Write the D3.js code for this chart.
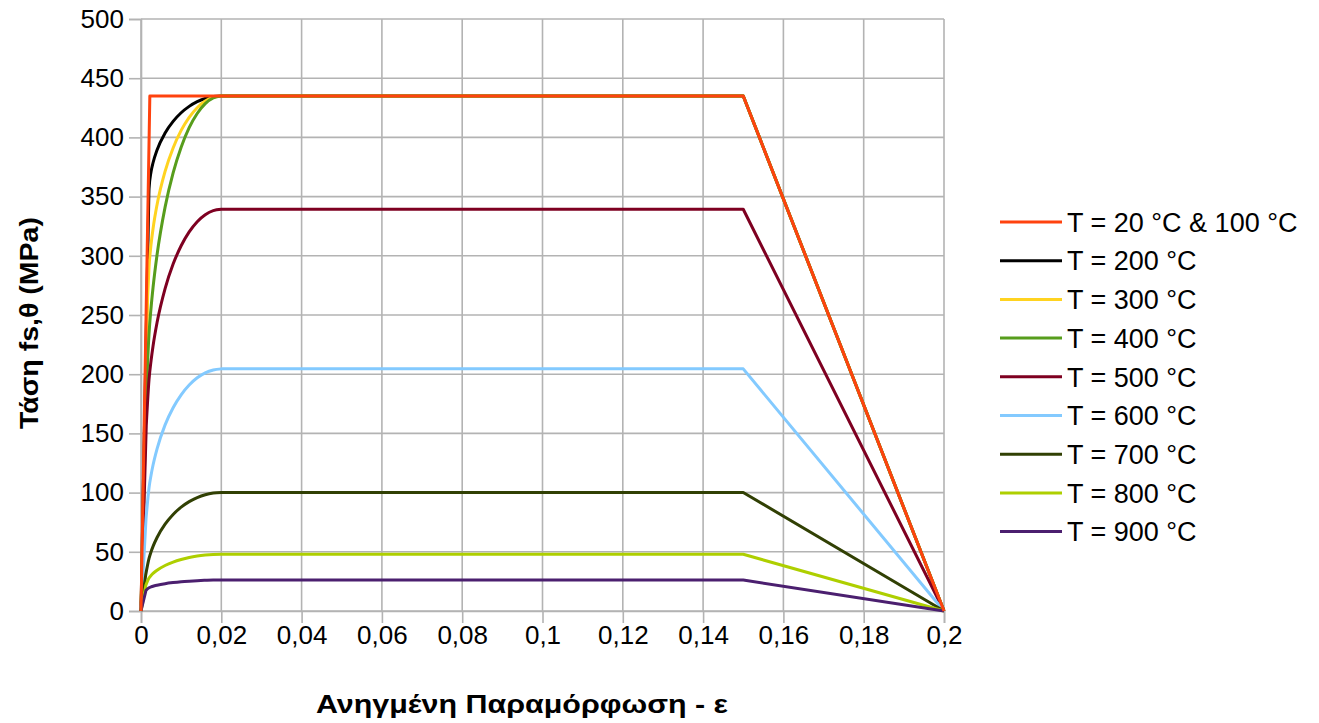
<!DOCTYPE html>
<html>
<head>
<meta charset="utf-8">
<script src="https://cdn.jsdelivr.net/npm/d3@7"></script>
<style>
  html, body { margin: 0; padding: 0; background: #fff; }
  svg { display: block; font-family: "Liberation Sans", Arial, sans-serif; }
</style>
</head>
<body>
<svg id="chart" width="1319" height="723"></svg>
<script>
// Stress–strain curves of reinforcing steel at elevated temperature
const seriesLabels = [
  "T = 20 °C & 100 °C", "T = 200 °C", "T = 300 °C", "T = 400 °C", "T = 500 °C",
  "T = 600 °C", "T = 700 °C", "T = 800 °C", "T = 900 °C"
];
const seriesColors = [
  "#ff420e", "#000000", "#ffd320", "#579d1c", "#7e0021",
  "#83caff", "#314004", "#aecf00", "#4b1f6f"
];

// end of the linear (proportional) branch for each temperature
const propStrain = [0.0022, 0.00196, 0.00166, 0.00131, 0.00131, 0.00126, 0.00117, 0.00121, 0.00124];
const propStress = [435, 352.4, 265.4, 182.7, 156.6, 78.3, 30.5, 21.8, 17.4];

// curved branch up to the yield strain 0.02
const curveStrain = [0.002, 0.0025, 0.003, 0.004, 0.006, 0.008, 0.010, 0.012, 0.014, 0.016, 0.018, 0.020];
const stress20   = [null, 435, 435, 435, 435, 435, 435, 435, 435, 435, 435, 435];
const stress200  = [356.4, 370.9, 378.6, 389.4, 403.7, 413.5, 420.8, 426.2, 430.2, 432.9, 434.5, 435];
const stress300  = [290.6, 309.4, 322.9, 343.2, 371.3, 391.1, 405.9, 417.0, 425.1, 430.7, 433.9, 435];
const stress400  = [234.2, 255.9, 273.2, 300.9, 341.1, 370.0, 391.7, 408.2, 420.2, 428.5, 433.4, 435];
const stress500  = [195.6, 211.3, 223.8, 243.6, 272.3, 293.0, 308.5, 320.2, 328.8, 334.7, 338.2, 339.3];
const stress600  = [104.1, 114.7, 123.3, 137.0, 157.2, 171.7, 182.6, 190.9, 197.0, 201.2, 203.6, 204.5];
const stress700  = [44.4, 50.0, 54.6, 62.1, 73.3, 81.5, 87.7, 92.4, 95.8, 98.2, 99.6, 100.1];
const stress800  = [27.9, 30.0, 31.7, 34.4, 38.4, 41.3, 43.5, 45.2, 46.4, 47.2, 47.7, 47.9];
const stress900  = [19.6, 20.3, 20.9, 21.8, 23.1, 24.0, 24.7, 25.2, 25.6, 25.9, 26.1, 26.1];
const curveStress = [stress20, stress200, stress300, stress400, stress500, stress600, stress700, stress800, stress900];

// plateau end and ultimate strain (stress falls to zero)
const plateauEndStrain = 0.15;
const ultimateStrain = 0.2;

const xTickValues = [0, 0.02, 0.04, 0.06, 0.08, 0.1, 0.12, 0.14, 0.16, 0.18, 0.2];
const yTickValues = [0, 50, 100, 150, 200, 250, 300, 350, 400, 450, 500];
const xTitle = "Ανηγμένη Παραμόρφωση - ε";
const yTitle = "Τάση fs,θ (MPa)";

const svg = d3.select("#chart");
const plot = { left: 141, right: 944, top: 19, bottom: 611 };

const x = d3.scaleLinear().domain([0, 0.2]).range([plot.left, plot.right]);
const y = d3.scaleLinear().domain([0, 500]).range([plot.bottom, plot.top]);

const grey = "#b3b3b3";
const commaFmt = d => String(+d.toFixed(2)).replace(".", ",");

// grid
const grid = svg.append("g");
grid.selectAll("line.h").data(yTickValues).join("line")
  .attr("x1", plot.left).attr("x2", plot.right)
  .attr("y1", d => y(d)).attr("y2", d => y(d))
  .attr("stroke", grey).attr("stroke-width", 1.6);
grid.selectAll("line.v").data(xTickValues).join("line")
  .attr("x1", d => x(d)).attr("x2", d => x(d))
  .attr("y1", plot.top).attr("y2", plot.bottom)
  .attr("stroke", grey).attr("stroke-width", 1.6);

// axes
const yAxis = svg.append("g")
  .attr("transform", `translate(${plot.left},0)`)
  .call(d3.axisLeft(y).tickValues(yTickValues).tickSize(12).tickPadding(5));
const xAxis = svg.append("g")
  .attr("transform", `translate(0,${plot.bottom})`)
  .call(d3.axisBottom(x).tickValues(xTickValues).tickFormat(commaFmt).tickSize(12).tickPadding(3));

[xAxis, yAxis].forEach(a => {
  a.select(".domain").attr("stroke", grey).attr("stroke-width", 1.6);
  a.selectAll(".tick line").attr("stroke", grey).attr("stroke-width", 1.6);
  a.selectAll(".tick text").attr("fill", "#000").attr("font-size", 26)
    .attr("font-family", "Liberation Sans, Arial, sans-serif");
});

// curves
const risingLine = d3.line().x(d => x(d[0])).y(d => y(d[1])).curve(d3.curveMonotoneX);

function seriesPath(i) {
  const pts = [[propStrain[i], propStress[i]]];
  curveStrain.forEach((e, k) => {
    const s = curveStress[i][k];
    if (s != null && e > propStrain[i]) pts.push([e, s]);
  });
  const yieldStress = pts[pts.length - 1][1];
  let d = `M${x(0)},${y(0)}L${x(propStrain[i])},${y(propStress[i])}`;
  d += risingLine(pts).replace(/^M[^LC]*/, "");
  d += `L${x(plateauEndStrain)},${y(yieldStress)}L${x(ultimateStrain)},${y(0)}`;
  return d;
}

const order = [1, 2, 3, 4, 5, 6, 7, 8, 0];
svg.append("g").selectAll("path").data(order).join("path")
  .attr("d", i => seriesPath(i))
  .attr("fill", "none")
  .attr("stroke", i => seriesColors[i])
  .attr("stroke-width", 3)
  .attr("stroke-linejoin", "round");

// legend
const legend = svg.append("g").attr("transform", "translate(1000,222)");
const rows = legend.selectAll("g").data(seriesLabels).join("g")
  .attr("transform", (d, i) => `translate(0,${i * 38.7})`);
rows.append("line")
  .attr("x1", 0).attr("x2", 62).attr("y1", 0).attr("y2", 0)
  .attr("stroke", (d, i) => seriesColors[i]).attr("stroke-width", 3);
rows.append("text")
  .attr("x", 67).attr("y", 0).attr("dy", "0.36em")
  .attr("font-size", 27).attr("fill", "#000")
  .text(d => d);

// axis titles
svg.append("text")
  .attr("x", 522).attr("y", 713)
  .attr("text-anchor", "middle")
  .attr("font-size", 26).attr("font-weight", "bold")
  .attr("textLength", 412).attr("lengthAdjust", "spacingAndGlyphs")
  .text(xTitle);
svg.append("text")
  .attr("transform", "translate(38,323) rotate(-90)")
  .attr("text-anchor", "middle")
  .attr("font-size", 26).attr("font-weight", "bold")
  .attr("textLength", 212).attr("lengthAdjust", "spacingAndGlyphs")
  .text(yTitle);
</script>
</body>
</html>
